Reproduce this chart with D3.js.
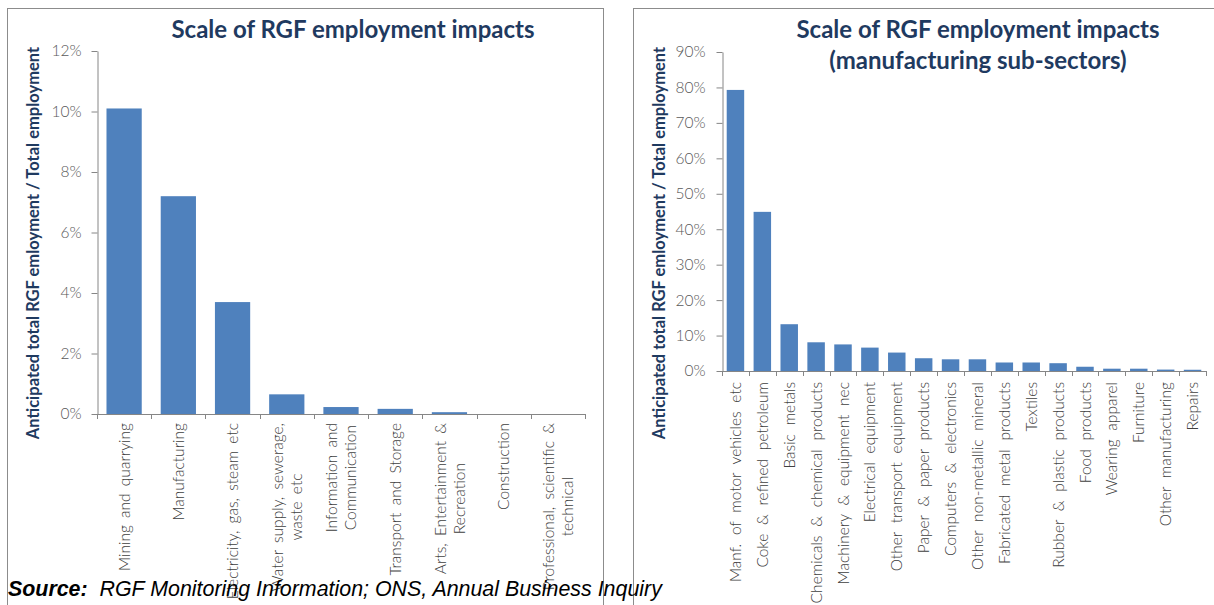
<!DOCTYPE html>
<html>
<head>
<meta charset="utf-8">
<script src="https://cdn.jsdelivr.net/npm/d3@7"></script>
<style>
  html, body { margin: 0; padding: 0; background: #fff; }
  svg { display: block; }
  .tick-label { font-family: Lato, "Open Sans", sans-serif; font-weight: 300; font-size: 15.5px; fill: #595959; }
  .cat-label { font-family: Lato, "Open Sans", sans-serif; font-weight: 300; fill: #404040; }
  .axis-title { font-family: Lato, "Open Sans", sans-serif; font-weight: 700; font-size: 16.5px; fill: #1f3a60; }
  .chart-title { font-family: Lato, "Open Sans", sans-serif; font-weight: 700; font-size: 24px; fill: #1f3a60; }
  .source { font-family: "Liberation Sans", Arial, sans-serif; font-style: italic; font-size: 21.4px; fill: #000; }
</style>
</head>
<body>
<script>
// Broad sectors: share of total employment attributable to RGF projects
const sectorCategories = [
  "Mining and quarrying",
  "Manufacturing",
  "Electricity, gas, steam etc",
  "Water supply, sewerage,\nwaste etc",
  "Information and\nCommunication",
  "Transport and Storage",
  "Arts, Entertainment &\nRecreation",
  "Construction",
  "Professional, scientific &\ntechnical"
];
const sectorValues = [0.101, 0.072, 0.037, 0.0065, 0.0023, 0.0017, 0.0006, 0, 0];
const sectorTicks = [0, 0.02, 0.04, 0.06, 0.08, 0.10, 0.12];

// Manufacturing sub-sectors
const manufCategories = [
  "Manf. of motor vehicles etc",
  "Coke & refined petroleum",
  "Basic metals",
  "Chemicals & chemical products",
  "Machinery & equipment nec",
  "Electrical equipment",
  "Other transport equipment",
  "Paper & paper products",
  "Computers & electronics",
  "Other non-metallic mineral",
  "Fabricated metal products",
  "Textiles",
  "Rubber & plastic products",
  "Food products",
  "Wearing apparel",
  "Furniture",
  "Other manufacturing",
  "Repairs"
];
const manufValues = [0.793, 0.449, 0.132, 0.081, 0.075, 0.066, 0.052, 0.036, 0.033, 0.033,
                     0.024, 0.024, 0.022, 0.012, 0.0065, 0.0065, 0.004, 0.0035];
const manufTicks = [0, 0.1, 0.2, 0.3, 0.4, 0.5, 0.6, 0.7, 0.8, 0.9];

const titleMain = "Scale of RGF employment impacts";
const titleSub = "(manufacturing  sub-sectors)";
const yTitle = "Anticipated total RGF emloyment / Total employment";

const W = 1214, H = 605;
const BAR = "#4f81bd", AXIS = "#868686", FRAME = "#8c8c8c";

const svg = d3.select("body").append("svg").attr("width", W).attr("height", H);
svg.append("rect").attr("width", W).attr("height", H).attr("fill", "#fff");

// chart frames
svg.append("rect").attr("x", 7.5).attr("y", 8.5).attr("width", 596).attr("height", 640)
  .attr("fill", "none").attr("stroke", FRAME);
svg.append("rect").attr("x", 633.5).attr("y", 8.5).attr("width", 640).attr("height", 640)
  .attr("fill", "none").attr("stroke", FRAME);

function drawChart(cfg) {
  const g = svg.append("g");
  const x = d3.scaleBand().domain(cfg.categories).range([cfg.x0, cfg.x1])
    .paddingInner(0.35).paddingOuter(0.175);
  const y = d3.scaleLinear().domain([0, cfg.max]).range([cfg.y0, cfg.y1]);

  // bars
  g.selectAll("rect.bar").data(cfg.values).enter().append("rect")
    .attr("class", "bar")
    .attr("x", (d, i) => x(cfg.categories[i]))
    .attr("width", x.bandwidth())
    .attr("y", d => y(d))
    .attr("height", d => cfg.y0 - y(d))
    .attr("fill", BAR);

  // y axis
  const yAxis = d3.axisLeft(y).tickValues(cfg.ticks).tickSizeInner(6).tickSizeOuter(0)
    .tickFormat(d3.format(".0%")).tickPadding(cfg.tickPad);
  const ya = g.append("g").attr("transform", `translate(${cfg.x0 + 0.5},0)`).call(yAxis);
  ya.select(".domain").attr("stroke", AXIS);
  ya.selectAll(".tick line").attr("stroke", AXIS);
  ya.selectAll(".tick text").attr("class", "tick-label").attr("fill", null)
    .attr("font-size", null).attr("font-family", null);

  // x axis: baseline with tick marks between categories
  const xa = g.append("g");
  xa.append("line").attr("x1", cfg.x0).attr("x2", cfg.x1)
    .attr("y1", cfg.y0 + 0.5).attr("y2", cfg.y0 + 0.5).attr("stroke", AXIS);
  const bounds = d3.range(cfg.categories.length + 1).map(i => x.range()[0] + i * x.step());
  xa.selectAll("line.xt").data(bounds).enter().append("line").attr("class", "xt")
    .attr("x1", d => Math.round(d) + 0.5).attr("x2", d => Math.round(d) + 0.5)
    .attr("y1", cfg.y0).attr("y2", cfg.y0 + 5).attr("stroke", AXIS);

  // rotated category labels, wrapped lines centred on each other
  const lh = cfg.lineHeight;
  cfg.categories.forEach(c => {
    const lines = c.split("\n");
    const lg = g.append("g")
      .attr("transform", `translate(${x(c) + x.bandwidth() / 2},${cfg.y0 + cfg.labelGap}) rotate(-90)`);
    const texts = lines.map((t, i) => lg.append("text").attr("class", "cat-label")
      .attr("font-size", cfg.labelSize)
      .attr("word-spacing", cfg.wordSpacing)
      .attr("text-anchor", "middle")
      .attr("y", (i - (lines.length - 1) / 2) * lh + cfg.labelSize * 0.36)
      .text(t));
    const maxW = d3.max(texts, t => t.node().getComputedTextLength());
    texts.forEach(t => t.attr("x", -maxW / 2));
  });

  // axis title
  g.append("text").attr("class", "axis-title")
    .attr("transform", `translate(${cfg.yTitleX},${cfg.yTitleY}) rotate(-90)`)
    .attr("text-anchor", "middle").text(yTitle);

  // chart title
  cfg.title.forEach((t, i) => {
    g.append("text").attr("class", "chart-title").attr("text-anchor", "middle")
      .attr("x", cfg.titleX).attr("y", cfg.titleY + i * 31).text(t);
  });
}

drawChart({
  categories: sectorCategories, values: sectorValues, ticks: sectorTicks, max: 0.12,
  x0: 97, x1: 585, y0: 414, y1: 51, tickPad: 10, labelGap: 9, lineHeight: 19,
  labelSize: 15.5, wordSpacing: 3,
  yTitleX: 39, yTitleY: 243, title: [titleMain], titleX: 353, titleY: 38
});

drawChart({
  categories: manufCategories, values: manufValues, ticks: manufTicks, max: 0.9,
  x0: 722, x1: 1206, y0: 371, y1: 52, tickPad: 11, labelGap: 11, lineHeight: 19,
  labelSize: 15.5, wordSpacing: 4.5,
  yTitleX: 665, yTitleY: 243, title: [titleMain, titleSub], titleX: 978, titleY: 38
});

// source note
const src = svg.append("text").attr("class", "source").attr("x", 8).attr("y", 596);
src.append("tspan").attr("font-weight", 700).text("Source:");
src.append("tspan").attr("xml:space", "preserve").text("  RGF Monitoring Information; ONS, Annual Business Inquiry");
</script>
</body>
</html>
